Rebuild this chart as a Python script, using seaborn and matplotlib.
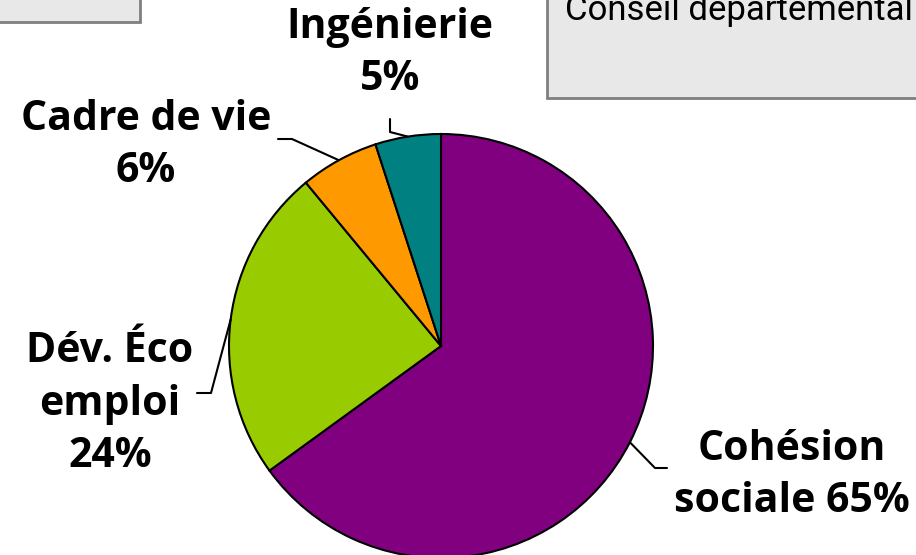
import matplotlib
matplotlib.use("Agg")
import matplotlib.pyplot as plt
import numpy as np
import seaborn as sns
from matplotlib.patches import Rectangle

# data
categories = ["Cohésion\nsociale", "Dév. Éco\nemploi", "Cadre de vie", "Ingénierie"]
shares = [65, 24, 6, 5]
separators = [" ", "\n", "\n", "\n"]
colors = ["#800080", "#99CC00", "#FF9900", "#008080"]
box_title = "Conseil départemental ("

# layout (pixels, origin top-left); label y = baseline of the last line
W, H = 916, 555
cx, cy, R = 441, 346, 212
label_pos = [(792, 512), (110, 467), (146, 182), (390, 90)]
elbows = [[(655, 468), (667, 468)],
          [(211, 393), (197, 393)],
          [(292, 139), (278, 139)],
          [(390, 132), (390, 119)]]

sns.set_theme(style="white")
plt.rcParams['font.family'] = ['Open Sans', 'DejaVu Sans']
plt.rcParams['text.color'] = 'black'

fig = plt.figure(figsize=(W / 100, H / 100), dpi=100)
fig.patch.set_facecolor("white")


def fx(px):
    return px / W


def fy(py):
    return 1 - py / H


def to_data(px, py):
    return (px - cx) / R, (cy - py) / R


# background boxes
fig.patches.append(Rectangle((fx(-5), fy(22)), fx(145), 0.2, transform=fig.transFigure,
                             facecolor="#e8e8e8", edgecolor="#7f7f7f", lw=2, zorder=0))
fig.patches.append(Rectangle((fx(547), fy(98)), 0.5, 0.5, transform=fig.transFigure,
                             facecolor="#e8e8e8", edgecolor="#7f7f7f", lw=2, zorder=0))
fig.text(fx(565), fy(20), box_title, fontsize=25, va="baseline", ha="left",
         family=['Roboto', 'DejaVu Sans'], color="black")

ax = fig.add_axes([fx(cx - R), fy(cy + R), 2 * R / W, 2 * R / H])
wedges, _ = ax.pie(shares, colors=colors, startangle=90, counterclock=False,
                   wedgeprops=dict(edgecolor="black", linewidth=1.5))
ax.set_xlim(-1, 1)
ax.set_ylim(-1, 1)
ax.axis("off")

for w, cat, val, sep, (lx, ly), pts in zip(wedges, categories, shares, separators, label_pos, elbows):
    mid = np.deg2rad((w.theta1 + w.theta2) / 2)
    xs = [np.cos(mid)] + [to_data(*p)[0] for p in pts]
    ys = [np.sin(mid)] + [to_data(*p)[1] for p in pts]
    ax.plot(xs, ys, color="black", lw=1.5, clip_on=False)
    fig.text(fx(lx), fy(ly), f"{cat}{sep}{val}%", fontsize=29.5, fontweight="bold",
             ha="center", va="baseline", multialignment="center", linespacing=1.37,
             color="black")

fig.savefig("out.png", dpi=100)
